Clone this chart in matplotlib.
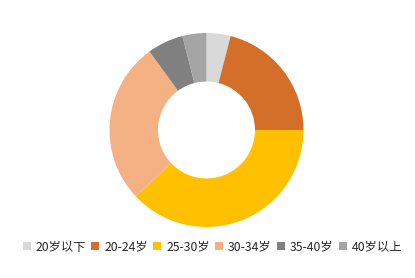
import matplotlib
matplotlib.use("Agg")
import matplotlib.pyplot as plt
from matplotlib.patches import Patch

plt.rcParams['font.family'] = ['Noto Sans CJK SC', 'DejaVu Sans']

categories = ['20岁以下', '20-24岁', '25-30岁', '30-34岁', '35-40岁', '40岁以上']
values = [4, 21, 38, 27, 6, 4]
colors = ['#D9D9D9', '#D46F29', '#FFC000', '#F4B183', '#808080', '#A5A5A5']

W, H = 415, 278
fig = plt.figure(figsize=(W / 100, H / 100), dpi=100)
cx, cy, R = 206.5, 130, 97
ax = fig.add_axes([(cx - R) / W, (H - cy - R) / H, 2 * R / W, 2 * R / H])
ax.pie(values, colors=colors, startangle=90, counterclock=False, radius=1,
       wedgeprops=dict(width=0.5, edgecolor='none', linewidth=0))
ax.set_xlim(-1, 1)
ax.set_ylim(-1, 1)
ax.set_aspect('equal')
ax.axis('off')

handles = [Patch(facecolor=c, edgecolor='none') for c in colors]
fig.legend(handles, categories, loc='center', bbox_to_anchor=(212.5 / W, 1 - 247 / H),
           ncol=6, frameon=False, fontsize=8.8, handlelength=0.65, handleheight=0.65,
           handletextpad=0.4, columnspacing=0.45, borderaxespad=0, borderpad=0,
           labelcolor='#262626')

fig.savefig('out.png', dpi=100)
